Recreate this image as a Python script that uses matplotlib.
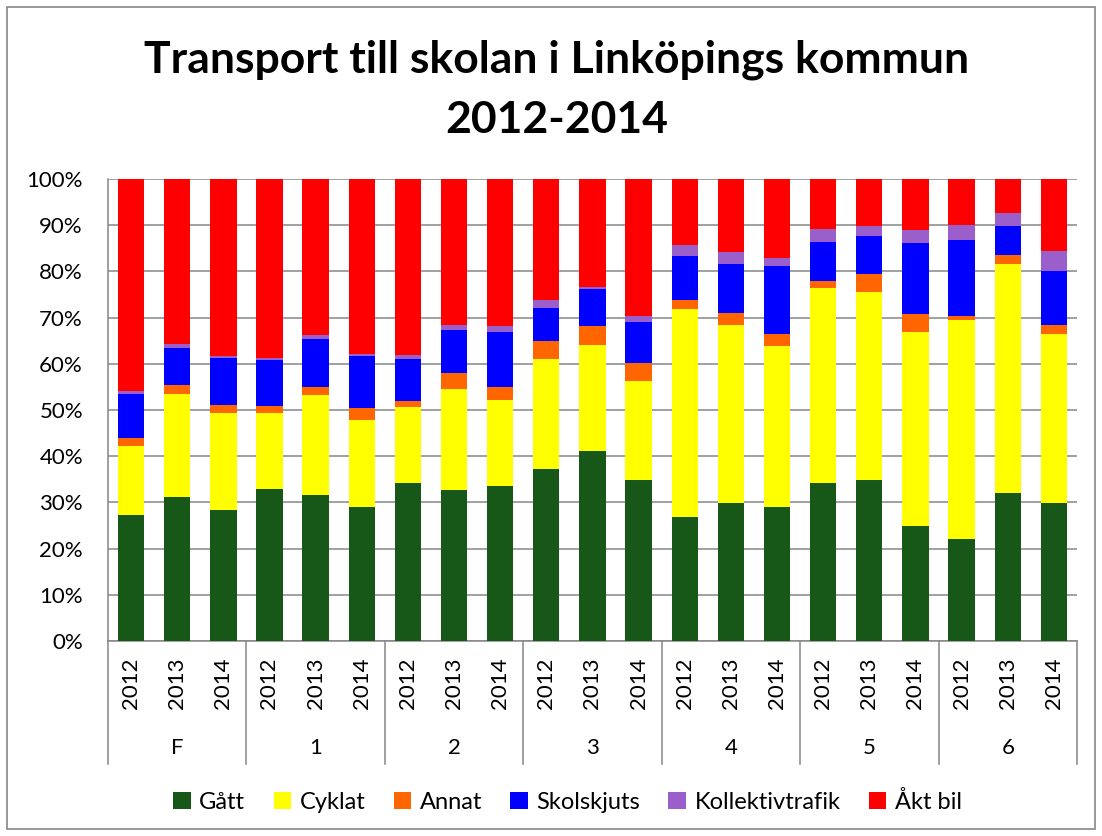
import matplotlib.pyplot as plt
from matplotlib.patches import Patch, Rectangle
from matplotlib.ticker import PercentFormatter

plt.rcParams['font.family'] = ['Lato', 'DejaVu Sans']

# data (percent of pupils per grade and year)
grades = ['F', '1', '2', '3', '4', '5', '6']
years = ['2012', '2013', '2014']

gatt = [27.3, 31.2, 28.3, 32.8, 31.7, 28.9, 34.2, 32.6, 33.6, 37.2, 41.1, 34.9,
        26.9, 29.9, 28.9, 34.1, 34.9, 24.9, 22.1, 32.0, 29.9]
cyklat = [15.0, 22.2, 21.0, 16.5, 21.5, 18.9, 16.4, 21.9, 18.5, 23.9, 23.0, 21.4,
          45.0, 38.4, 35.0, 42.4, 40.7, 41.9, 47.4, 49.6, 36.5]
annat = [1.7, 2.1, 1.7, 1.5, 1.8, 2.7, 1.3, 3.6, 2.9, 3.8, 4.0, 3.9,
         1.8, 2.7, 2.6, 1.4, 3.9, 4.0, 0.8, 1.9, 1.9]
skolskjuts = [9.4, 7.9, 10.3, 10.1, 10.4, 11.2, 9.1, 9.2, 11.9, 7.2, 8.0, 8.9,
              9.7, 10.5, 14.7, 8.5, 8.2, 15.3, 16.5, 6.3, 11.8]
kollektiv = [0.6, 0.8, 0.3, 0.4, 0.8, 0.5, 1.0, 1.2, 1.2, 1.6, 0.5, 1.3,
             2.3, 2.7, 1.6, 2.8, 2.2, 2.8, 3.2, 2.8, 4.3]
akt_bil = [46.0, 35.8, 38.4, 38.7, 33.8, 37.8, 38.0, 31.5, 31.9, 26.3, 23.4, 29.6,
           14.3, 15.8, 17.2, 10.8, 10.1, 11.1, 10.0, 7.4, 15.6]

series = [('Gått', gatt, '#175717'),
          ('Cyklat', cyklat, '#FFFF00'),
          ('Annat', annat, '#FF6600'),
          ('Skolskjuts', skolskjuts, '#0000FF'),
          ('Kollektivtrafik', kollektiv, '#9B5FCC'),
          ('Åkt bil', akt_bil, '#FF0000')]

labels = [y for g in grades for y in years]
x = list(range(len(labels)))

fig = plt.figure(figsize=(11.02, 8.36), dpi=100)
ax = fig.add_axes([0.098, 0.2333, 0.8793, 0.5526])

bottom = [0.0] * len(x)
for name, vals, col in series:
    ax.bar(x, vals, width=0.57, bottom=bottom, color=col, label=name, zorder=3)
    bottom = [b + v for b, v in zip(bottom, vals)]

ax.set_xlim(-0.5, len(x) - 0.5)
ax.set_ylim(0, 100)
ax.set_yticks(range(0, 101, 10))
ax.yaxis.set_major_formatter(PercentFormatter(decimals=0))
ax.grid(axis='y', color='#868686', lw=1.1, zorder=0)
ax.set_axisbelow(True)

for s in ['top', 'right']:
    ax.spines[s].set_visible(False)
for s in ['left', 'bottom']:
    ax.spines[s].set_color('#868686')
    ax.spines[s].set_linewidth(1.1)

ax.tick_params(axis='y', length=0, pad=18, labelsize=16)
ax.set_xticks(x)
ax.set_xticklabels(labels, rotation=90, fontsize=16)
ax.tick_params(axis='x', length=0, pad=12)

# grade level of the category axis
trans = ax.get_xaxis_transform()
for i in range(len(grades) + 1):
    xs = i * 3 - 0.5
    ax.plot([xs, xs], [0, -0.266], transform=trans, color='#868686', lw=1.1,
            clip_on=False)
for i, g in enumerate(grades):
    ax.text(i * 3 + 1, -0.232, g, transform=trans, ha='center', va='center',
            fontsize=16)

fig.text(0.505, 1 - 73 / 836, 'Transport till skolan i Linköpings kommun',
         ha='center', va='baseline', fontsize=32, fontweight='bold')
fig.text(0.505, 1 - 133 / 836, '2012-2014',
         ha='center', va='baseline', fontsize=32, fontweight='bold')

handles = [Patch(facecolor=c, label=n) for n, _, c in series]
fig.legend(handles=handles, loc='center', bbox_to_anchor=(0.515, 1 - 802 / 836),
           ncol=6, frameon=False, fontsize=17, handlelength=0.75,
           handleheight=0.75, handletextpad=0.35, columnspacing=1.2)

fig.patches.append(Rectangle((7 / 1102, 7 / 836), 1 - 14 / 1102, 1 - 14 / 836,
                             transform=fig.transFigure, fill=False,
                             edgecolor='#868686', lw=1.2))

fig.savefig('out.png', dpi=100)
